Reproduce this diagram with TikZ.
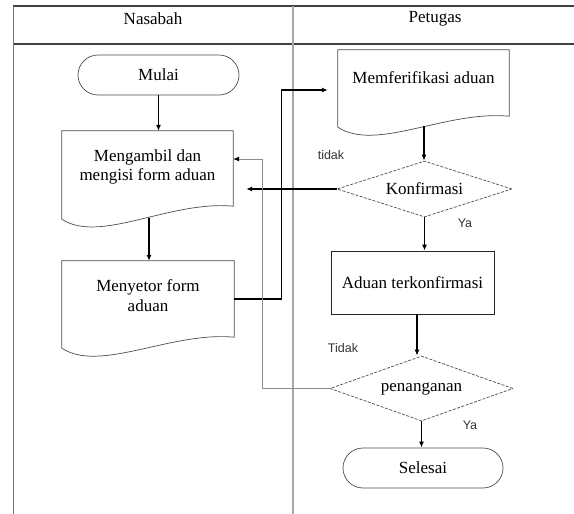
\documentclass[tikz,border=0pt]{standalone}
\usepackage{fontspec}
\setmainfont{Liberation Serif}
\newfontfamily\labfont{Liberation Sans}
\usetikzlibrary{shapes.geometric,calc,arrows.meta}
\newcommand\docoutline[3]{%
  \draw[docline] (#1.north west) -- (#1.north east) -- ($(#1.south east)+(0,#2)$)
    .. controls ($(#1.south east)+(-63,#2-6)$) and ($(#1.south west)+(38,#3+25)$) .. ($(#1.south west)+(0,#3)$) -- cycle;}
\begin{document}
\begin{tikzpicture}[x=1pt,y=-1pt,
  every node/.style={font=\fontsize{17}{19.5}\selectfont},
  frame/.style={draw=black!75,line width=1.3pt},
  sideline/.style={draw=black!55,line width=1pt},
  divider/.style={draw=black!35,line width=1.2pt},
  term/.style={draw=black!70,line width=0.7pt,rounded corners=20pt,minimum width=161pt,minimum height=40pt,inner sep=0pt},
  docbox/.style={inner sep=0pt,align=center},
  docline/.style={draw=black!70,line width=0.7pt},
  decision/.style={diamond,draw=black!70,dash pattern=on 3pt off 1.5pt,line width=0.7pt,inner sep=0pt,aspect=3},
  process/.style={rectangle,draw=black!85,line width=0.9pt,inner sep=0pt},
  arr/.style={draw=black,line width=1.2pt,-{Latex[length=6pt,width=5pt]}},
  loopline/.style={draw=black!45,line width=0.7pt,-{Latex[length=6pt,width=5pt,black]}},
  lab/.style={font=\labfont\fontsize{12.5}{14}\selectfont,text=black!80},
]
\useasboundingbox (0,0) rectangle (574,514);
% frame
\draw[frame] (13,6) -- (574,6);
\draw[frame] (13,44) -- (574,44);
\draw[sideline] (13,6) -- (13,514);
\draw[divider] (293,6) -- (293,514);
\node (hnas) at (153,19) {Nasabah};
\node (hpet) at (435,19) {Petugas};
% nodes
\node[term] (mulai) at (158.5,75) {Mulai};
\node[docbox,minimum width=171pt,minimum height=72pt] (doc1) at (147.5,167) {Mengambil dan\\mengisi form aduan};
\node[docbox,minimum width=172pt,minimum height=69pt] (doc2) at (148,295.5) {Menyetor form\\aduan};
\node[docbox,minimum width=171pt,minimum height=56pt] (memf) at (423.5,78) {Memferifikasi aduan};
\node[decision,minimum width=175pt,minimum height=56pt] (konf) at (424.5,189) {Konfirmasi};
\node[process,minimum width=163pt,minimum height=63pt] (aduan) at (412.5,282.5) {Aduan terkonfirmasi};
\node[decision,minimum width=183pt,minimum height=65pt] (pen) at (421.5,388.5) {penanganan};
\node[term,minimum width=160pt] (sel) at (423,468) {Selesai};
\docoutline{doc1}{3}{16}
\docoutline{doc2}{7}{18}
\docoutline{memf}{10}{21}
% connectors
\coordinate (w1) at ($(doc1.south)+(1.5,15)$);
\coordinate (w2) at ($(memf.south)+(0.5,20)$);
\coordinate (w3) at ($(aduan.south)+(4.5,0)$);
\draw[arr] (mulai.south) -- (mulai.south |- doc1.north);
\draw[arr] (w1) -- (w1 |- doc2.north);
\draw[arr] ($(doc2.east)+(0,3.5)$) -- ++(47,0) |- ($(memf.west)+(-10,12)$);
\draw[arr] (w2) -- (w2 |- konf.north);
\draw[arr] (konf.west) -- ($(konf.west -| doc1.east)+(13,0)$);
\draw[arr] (konf.south) -- (konf.south |- aduan.north);
\draw[arr] (w3) -- (w3 |- pen.north);
\draw[loopline] (pen.west) -- ++(-67,0) |- ($(doc1.east)+(0,-8)$);
\draw[arr] (pen.south) -- (pen.south |- sel.north);
% labels
\node[lab] (t1) at (331,155) {tidak};
\node[lab] (y1) at (465,223) {Ya};
\node[lab] (t2) at (343,348) {Tidak};
\node[lab] (y2) at (470,425) {Ya};
\end{tikzpicture}
\end{document}
